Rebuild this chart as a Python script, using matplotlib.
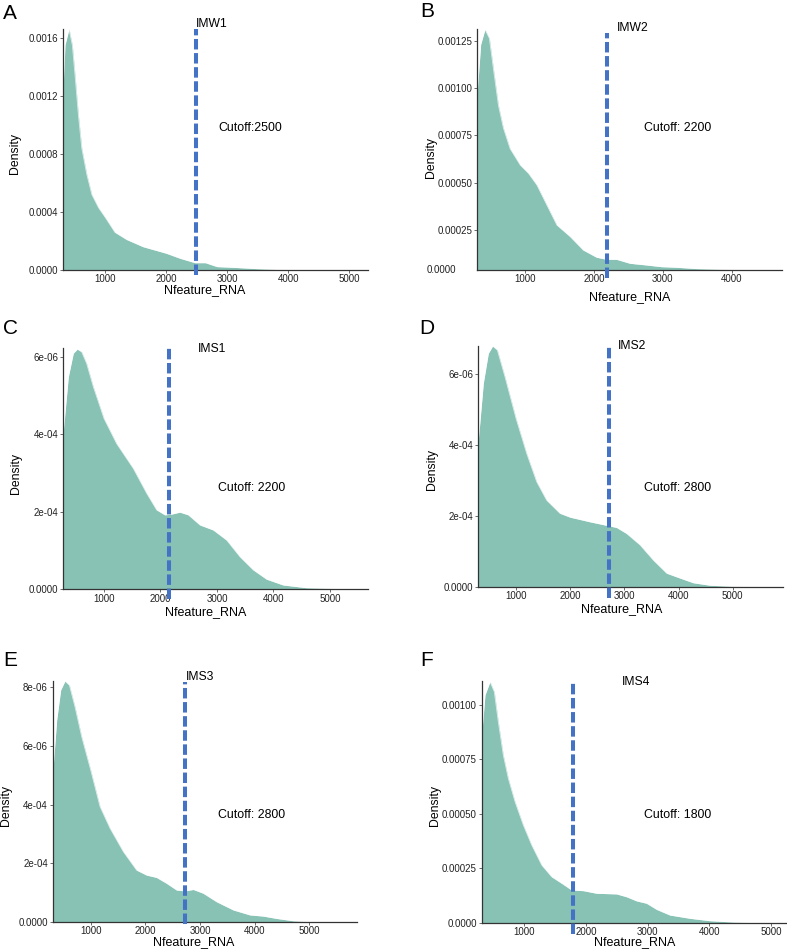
import matplotlib
matplotlib.use('Agg')
import matplotlib.pyplot as plt
from matplotlib.transforms import blended_transform_factory

plt.rcParams['font.family'] = ['Liberation Sans', 'DejaVu Sans']

# density curves (Nfeature_RNA, density)
a_x = [303, 336, 402, 456, 501, 555, 611, 693, 776, 885, 1000, 1155, 1347, 1620, 2000,
       2228, 2470, 2640, 2833, 3110, 3490, 3820, 4200, 5000, 5308]
a_y = [0.00123, 0.00155, 0.00166, 0.00155, 0.00134, 0.00107, 0.00084, 0.00066, 0.00052,
       0.00043, 0.00036, 0.00026, 0.00021, 0.00016, 0.000115, 0.00008, 0.00005, 0.00005,
       0.000023, 0.000018, 0.000009, 0.000004, 0.000002, 0.0, 0.0]

b_x = [308, 357, 420, 483, 541, 614, 686, 784, 930, 1050, 1173, 1318, 1464, 1657, 1847,
       2040, 2185, 2330, 2524, 2766, 2985, 3200, 3490, 3880, 4360, 4728]
b_y = [0.00098, 0.00123, 0.00131, 0.001263, 0.001105, 0.00091, 0.00079, 0.00068, 0.000594,
       0.00055, 0.000488, 0.000382, 0.000276, 0.000215, 0.000144, 0.000106, 0.000095,
       0.000095, 0.000074, 0.000065, 0.000056, 0.000053, 0.000046, 0.000042, 0.000039,
       0.0000387]

c_x = [280, 369, 457, 528, 605, 693, 811, 1000, 1224, 1519, 1755, 1932, 2080, 2198, 2345,
       2493, 2699, 2935, 3171, 3407, 3643, 3879, 4174, 4587, 5059, 5678]
c_y = [4.07e-4, 5.48e-4, 6.09e-4, 6.2e-4, 6.13e-4, 5.83e-4, 5.23e-4, 4.41e-4, 3.76e-4,
       3.12e-4, 2.48e-4, 2.05e-4, 1.92e-4, 1.94e-4, 1.99e-4, 1.92e-4, 1.66e-4, 1.53e-4,
       1.27e-4, 8.4e-5, 5.0e-5, 2.6e-5, 1.1e-5, 4e-6, 2e-6, 0.0]

d_x = [305, 397, 489, 569, 655, 797, 1000, 1197, 1382, 1566, 1812, 2000, 2366, 2705, 2858,
       3043, 3289, 3535, 3782, 3997, 4274, 4582, 5000, 5934]
d_y = [4.14e-4, 5.74e-4, 6.58e-4, 6.79e-4, 6.68e-4, 5.92e-4, 4.75e-4, 3.76e-4, 2.96e-4,
       2.44e-4, 2.07e-4, 1.96e-4, 1.83e-4, 1.72e-4, 1.67e-4, 1.5e-4, 1.18e-4, 7.5e-5,
       3.8e-5, 2.6e-5, 1.1e-5, 4e-6, 1e-6, 0.0]

e_x = [305, 378, 451, 530, 610, 713, 835, 1000, 1171, 1354, 1598, 1841, 2024, 2207, 2390,
       2573, 2726, 2878, 3061, 3305, 3610, 3915, 4159, 4402, 4707, 5012, 5877]
e_y = [5.06e-4, 6.88e-4, 7.91e-4, 8.22e-4, 8.08e-4, 7.34e-4, 6.32e-4, 5.18e-4, 3.93e-4,
       3.19e-4, 2.39e-4, 1.76e-4, 1.59e-4, 1.51e-4, 1.31e-4, 1.08e-4, 1.05e-4, 1.10e-4,
       9.7e-5, 6.8e-5, 4.0e-5, 2.3e-5, 1.9e-5, 1.1e-5, 3e-6, 0.0, 0.0]

f_x = [310, 364, 445, 514, 579, 660, 741, 850, 984, 1120, 1282, 1444, 1607, 1769, 1957,
       2173, 2497, 2659, 2822, 2984, 3146, 3362, 3686, 4011, 4389, 4768, 5254]
f_y = [8.62e-4, 1.046e-3, 1.107e-3, 1.061e-3, 9.23e-4, 7.7e-4, 6.63e-4, 5.56e-4, 4.49e-4,
       3.57e-4, 2.65e-4, 2.11e-4, 1.81e-4, 1.5e-4, 1.47e-4, 1.35e-4, 1.32e-4, 1.19e-4,
       1.0e-4, 8.9e-5, 6.1e-5, 3.5e-5, 2.0e-5, 9e-6, 3e-6, 0.0, 0.0]

samples = ['IMW1', 'IMW2', 'IMS1', 'IMS2', 'IMS3', 'IMS4']
letters = ['A', 'B', 'C', 'D', 'E', 'F']
cutoff_text = ['Cutoff:2500', 'Cutoff: 2200', 'Cutoff: 2200', 'Cutoff: 2800',
               'Cutoff: 2800', 'Cutoff: 1800']
cutoff_lines = [2480, 2190, 2150, 2710, 2725, 1785]

x_ticks = [[1000, 2000, 3000, 4000, 5000], [1000, 2000, 3000, 4000],
           [1000, 2000, 3000, 4000, 5000], [1000, 2000, 3000, 4000, 5000],
           [1000, 2000, 3000, 4000, 5000], [1000, 2000, 3000, 4000, 5000]]
y_ticks = [[0, 0.0004, 0.0008, 0.0012, 0.0016],
           [0.00025, 0.00050, 0.00075, 0.00100, 0.00125],
           [0, 2e-4, 4e-4, 6e-4],
           [0, 2e-4, 4e-4, 6e-4],
           [0, 2e-4, 4e-4, 6e-4, 8e-4],
           [0, 0.00025, 0.00050, 0.00075, 0.00100]]
y_labels = [['0.0000', '0.0004', '0.0008', '0.0012', '0.0016'],
            ['0.00025', '0.00050', '0.00075', '0.00100', '0.00125'],
            ['0.0000', '2e-04', '4e-04', '6e-06'],
            ['0.0000', '2e-04', '4e-04', '6e-06'],
            ['0.0000', '2e-04', '4e-04', '6e-06', '8e-06'],
            ['0.0000', '0.00025', '0.00050', '0.00075', '0.00100']]

curves = [(a_x, a_y), (b_x, b_y), (c_x, c_y), (d_x, d_y), (e_x, e_y), (f_x, f_y)]

# layout in pixels: axes box (left, top, right, bottom), x/y limits
W, H = 787, 950
boxes = [(63, 29, 368, 270), (477.3, 29, 781.7, 270), (63.3, 348.3, 368.3, 589.3),
         (478.3, 346, 783.3, 586.7), (52.7, 681, 357.3, 921.7), (481.7, 681, 786.7, 922.7)]
xlims = [(303, 5308), (308, 4728), (280, 5678), (304, 5934), (305, 5877), (310, 5254)]
ylims = [(0, 0.00166), (0.0000387, 0.001312), (0, 6.22e-4), (0, 6.79e-4),
         (0, 8.22e-4), (0, 0.00111)]
vline_span = [(-0.021, 1.0), (-0.033, 0.983), (-0.042, 1.0), (-0.045, 1.004),
              (-0.01, 0.997), (-0.047, 1.0)]
letter_pos = [(3, 13.5), (420.7, 11.7), (3, 328), (419, 329), (3, 661), (420.7, 661)]
sample_pos = [(196, 24), (617, 28), (198, 349), (618, 346), (186, 677), (621.7, 682)]
cut_pos = [(218, 128), (644, 128), (218, 488), (644, 488), (218, 815), (644, 815)]
ylab_pos = [(15, 153), (430.7, 158), (16, 473), (431.7, 470), (6, 805), (435, 805)]
xlab_pos = [(205, 290), (630, 297), (206, 612), (621.7, 609), (194, 942), (635, 942.5)]

fill_color = '#88c2b5'
line_color = '#4472c4'

fig = plt.figure(figsize=(W / 100, H / 100), dpi=100)

for i in range(6):
    l, t, r, b = boxes[i]
    ax = fig.add_axes([l / W, 1 - b / H, (r - l) / W, (b - t) / H])
    xs, ys = curves[i]
    ax.fill_between(xs, ys, 0, color=fill_color, linewidth=0)
    ax.plot(xs, ys, color='white', linewidth=0.6, alpha=0.7)

    tr = blended_transform_factory(ax.transData, ax.transAxes)
    ax.plot([cutoff_lines[i], cutoff_lines[i]], list(vline_span[i]), transform=tr,
            color=line_color, linewidth=2.9, dashes=(2.6, 0.9), clip_on=False,
            solid_capstyle='butt', dash_capstyle='butt', zorder=5)

    ax.set_xlim(*xlims[i])
    ax.set_ylim(*ylims[i])
    ax.set_xticks(x_ticks[i])
    ax.set_xticklabels([str(v) for v in x_ticks[i]])
    ax.set_yticks(y_ticks[i])
    ax.set_yticklabels(y_labels[i])
    ax.tick_params(labelsize=7, length=2, width=0.6, color='#555555',
                   labelcolor='#222222', pad=1.5)
    ax.tick_params(axis='x', pad=1.2)
    for side in ['top', 'right']:
        ax.spines[side].set_visible(False)
    for side in ['left', 'bottom']:
        ax.spines[side].set_color('#333333')
        ax.spines[side].set_linewidth(0.9)
    ax.set_facecolor('none')

    if i == 1:
        # zero label sits just below the axis in this panel
        ax.text(-0.008, 0, '0.0000', transform=tr, ha='right', va='center',
                fontsize=7, color='#222222', clip_on=False)

    fig.text(letter_pos[i][0] / W, 1 - letter_pos[i][1] / H, letters[i],
             fontsize=15, ha='left', va='center')
    fig.text(sample_pos[i][0] / W, 1 - sample_pos[i][1] / H, samples[i],
             fontsize=8.7, ha='left', va='center')
    fig.text(cut_pos[i][0] / W, 1 - cut_pos[i][1] / H, cutoff_text[i],
             fontsize=8.9, ha='left', va='center')
    fig.text(ylab_pos[i][0] / W, 1 - ylab_pos[i][1] / H, 'Density',
             fontsize=8.8, rotation=90, ha='center', va='center')
    fig.text(xlab_pos[i][0] / W, 1 - xlab_pos[i][1] / H, 'Nfeature_RNA',
             fontsize=9, ha='center', va='center')

fig.savefig('out.png', dpi=100)
